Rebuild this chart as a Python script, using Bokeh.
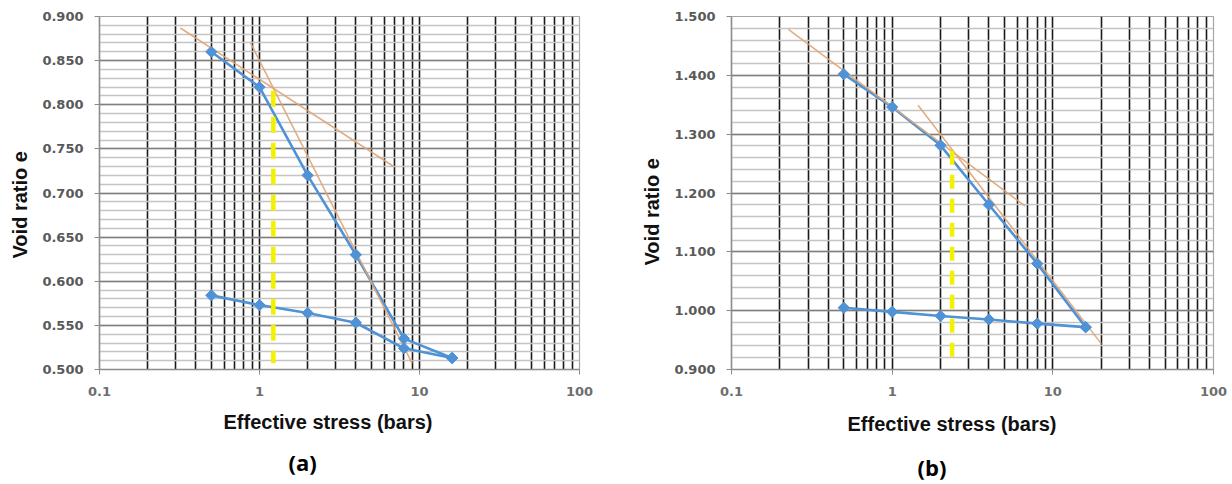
import numpy as np
from bokeh.plotting import figure
from bokeh.layouts import row
from bokeh.models import FixedTicker, NumeralTickFormatter, Title, Range1d
from bokeh.embed import file_html
from bokeh.resources import INLINE

# ---------------- data ----------------
x_ticks = [0.1, 1, 10, 100]
x_tick_labels = ["0.1", "1", "10", "100"]
x_minor = [m * d for d in (0.1, 1, 10) for m in range(2, 10)]

# (a)
stress_load_a = [0.5, 1, 2, 4, 8, 16]
e_load_a = [0.860, 0.820, 0.720, 0.630, 0.535, 0.513]
stress_unload_a = [16, 8, 4, 2, 1, 0.5]
e_unload_a = [0.513, 0.524, 0.553, 0.564, 0.573, 0.584]
recomp_x_a = [0.32, 6.9]
recomp_y_a = [0.887, 0.730]
virgin_x_a = [0.88, 9.0]
virgin_y_a = [0.870, 0.507]
pc_x_a = [1.22, 1.22]
pc_y_a = [0.816, 0.507]
y_ticks_a = [0.5, 0.55, 0.6, 0.65, 0.7, 0.75, 0.8, 0.85, 0.9]
y_minor_a = [round(0.5 + 0.01 * i, 3) for i in range(41)]

# (b)
stress_load_b = [0.5, 1, 2, 4, 8, 16]
e_load_b = [1.402, 1.346, 1.281, 1.180, 1.080, 0.972]
stress_unload_b = [16, 8, 4, 2, 1, 0.5]
e_unload_b = [0.972, 0.978, 0.985, 0.991, 0.998, 1.005]
recomp_x_b = [0.226, 6.7]
recomp_y_b = [1.478, 1.178]
virgin_x_b = [1.45, 20]
virgin_y_b = [1.349, 0.944]
pc_x_b = [2.36, 2.36]
pc_y_b = [1.272, 0.910]
y_ticks_b = [0.9, 1.0, 1.1, 1.2, 1.3, 1.4, 1.5]
y_minor_b = [round(0.9 + 0.02 * i, 3) for i in range(31)]

BLUE = "#4F92D6"
ORANGE = "#E0A474"
YELLOW = "#F2F200"
TICK_FONT = "DejaVu Sans"
TITLE_FONT = "Liberation Sans"


def make_panel(width, height, bl, br, bt, bb, yr, yt, ym, load, unload,
               recomp, virgin, pc, tag, offs, dash):
    p = figure(width=width, height=height, x_axis_type="log",
               x_range=Range1d(0.1, 100), y_range=Range1d(*yr),
               output_backend="svg", toolbar_location=None,
               min_border_left=bl, min_border_right=br,
               min_border_top=bt, min_border_bottom=bb)
    p.background_fill_color = "white"
    p.border_fill_color = "white"
    p.outline_line_color = "#A6A6A6"
    p.outline_line_width = 1.2

    p.xaxis.ticker = FixedTicker(ticks=x_ticks, minor_ticks=x_minor)
    p.xaxis.major_label_overrides = dict(zip(x_ticks, x_tick_labels))
    p.yaxis.ticker = FixedTicker(ticks=yt, minor_ticks=ym)
    p.yaxis.formatter = NumeralTickFormatter(format="0.000")

    for ax in (p.xaxis, p.yaxis):
        ax.axis_line_color = "#8C8C8C"
        ax.axis_line_width = 1.5
        ax.major_tick_line_color = "#8C8C8C"
        ax.major_tick_out = 5
        ax.major_tick_in = 0
        ax.minor_tick_out = 0
        ax.minor_tick_in = 0
        ax.major_label_text_font = TICK_FONT
        ax.major_label_text_font_style = "bold"
        ax.major_label_text_font_size = "13px"
    p.xaxis.major_label_standoff = 12
    p.yaxis.major_label_standoff = 11
    p.yaxis.major_label_text_color = "#595959"
    p.xaxis.major_label_text_color = "#6E6E6E"

    p.xgrid.grid_line_color = "#1A1A1A"
    p.xgrid.grid_line_width = 1.6
    p.xgrid.minor_grid_line_color = "#1A1A1A"
    p.xgrid.minor_grid_line_width = 1.6
    p.ygrid.grid_line_color = "#7F7F7F"
    p.ygrid.grid_line_width = 1.5
    p.ygrid.minor_grid_line_color = "#C4C4C4"
    p.ygrid.minor_grid_line_width = 1.5

    p.line(load[0], load[1], line_color=BLUE, line_width=2.6)
    p.line(unload[0], unload[1], line_color=BLUE, line_width=2.6)
    p.line(recomp[0], recomp[1], line_color=ORANGE, line_width=1.6, line_alpha=0.9)
    p.line(virgin[0], virgin[1], line_color=ORANGE, line_width=1.6, line_alpha=0.9)
    p.scatter(load[0], load[1], marker="square", angle=np.pi / 4, size=8,
              fill_color=BLUE, line_color=BLUE)
    p.scatter(unload[0], unload[1], marker="square", angle=np.pi / 4, size=8,
              fill_color=BLUE, line_color=BLUE)
    p.line(pc[0], pc[1], line_color=YELLOW, line_width=4.5, line_dash=dash)

    off_v, off_x, off_tag, gap = offs
    p.add_layout(Title(text="Effective stress (bars)", align="left", offset=off_x,
                       vertical_align="middle", standoff=gap,
                       text_font=TITLE_FONT, text_font_style="bold",
                       text_font_size="20px", text_color="#111111"), "below")
    p.add_layout(Title(text=tag, align="left", offset=off_tag,
                       vertical_align="bottom", standoff=0,
                       text_font="Open Sans", text_font_style="bold",
                       text_font_size="22px", text_color="#000000"), "below")
    p.add_layout(Title(text="Void ratio e", align="left", offset=off_v,
                       vertical_align="middle", standoff=15,
                       text_font=TITLE_FONT, text_font_style="bold",
                       text_font_size="20px", text_color="#111111"), "left")
    return p


pa = make_panel(620, 484, 99, 41, 15, 110, (0.5, 0.9), y_ticks_a, y_minor_a,
                (stress_load_a, e_load_a), (stress_unload_a, e_unload_a),
                (recomp_x_a, recomp_y_a), (virgin_x_a, virgin_y_a),
                (pc_x_a, pc_y_a), "(a)", (111, 124, 189, 22), "16 10")
pb = make_panel(612, 484, 111, 19, 16, 115, (0.9, 1.5), y_ticks_b, y_minor_b,
                (stress_load_b, e_load_b), (stress_unload_b, e_unload_b),
                (recomp_x_b, recomp_y_b), (virgin_x_b, virgin_y_b),
                (pc_x_b, pc_y_b), "(b)", (104, 116, 186, 27), "14 10")

layout = row(pa, pb)
open("out.html", "w").write(file_html(layout, INLINE))
